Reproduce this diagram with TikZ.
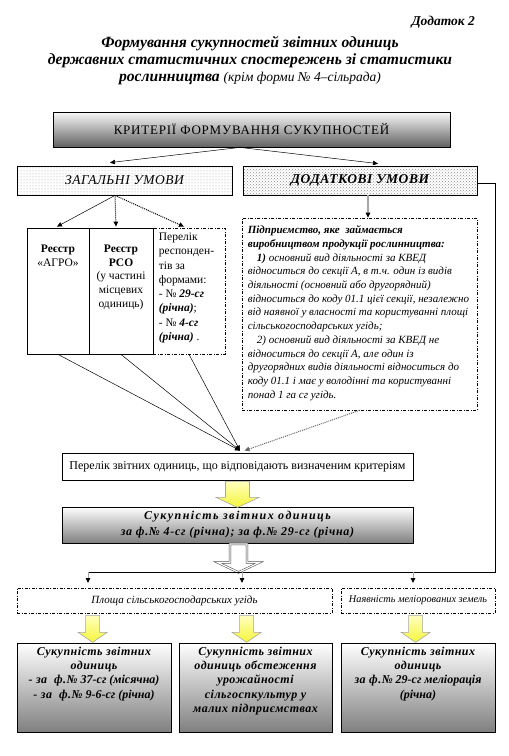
\documentclass[tikz,border=0pt]{standalone}
\usepackage{fontspec}
\setmainfont{Liberation Serif}
\newfontfamily\spfont[LetterSpace=12]{Liberation Serif}
\newfontfamily\spfontm[LetterSpace=6]{Liberation Serif}
\newfontfamily\spfonts[LetterSpace=4]{Liberation Serif}
\usetikzlibrary{arrows.meta,calc,patterns}
\begin{document}
\begin{tikzpicture}[x=1pt,y=-1pt,
  frame/.style={draw, line width=0.8pt, inner sep=0pt},
  ddash/.style={draw, line width=0.7pt, inner sep=0pt, dash pattern=on 3pt off 1.5pt on 1pt off 1.5pt},
  tipa/.style={-{Triangle[length=5pt,width=4.5pt]}},
  thinarr/.style={tipa, line width=0.5pt},
  dotarr/.style={tipa, line width=1pt, densely dotted},
  grayarr/.style={-{Triangle[length=5pt,width=4.5pt,color=black]}, draw=gray!70, line width=1.2pt},
  yblock/.style={draw=gray!70, line width=0.6pt, top color={rgb,255:red,255;green,255;blue,190}, bottom color={rgb,255:red,245;green,245;blue,60}},
  hblock/.style={draw=black!75, line width=0.5pt, double=white, double distance=1.2pt, fill=white},
  txt/.style={inner sep=0pt},
  btxt/.style={txt, anchor=north, align=center, font=\fontsize{12}{14.3}\selectfont\bfseries\itshape}
]
\useasboundingbox (0,0) rectangle (509,756);

% title
\node[txt, anchor=east, font=\fontsize{13.5}{15}\selectfont\bfseries\itshape] (appx) at (475,22) {Додаток 2};
\node[txt, align=center, font=\fontsize{15.6}{17}\selectfont\bfseries\itshape] (title) at (250,61)
  {Формування сукупностей звітних одиниць\\державних статистичних спостережень зі статистики\\рослинництва {\mdseries\fontsize{13.5}{17}\selectfont (крім форми № 4–сільрада)}};

% criteria
\node[frame, top color=gray!5, bottom color=black!62, minimum width=397pt, minimum height=35pt] (crit) at (251.5,129.5)
  {\spfontm\fontsize{13}{15}\selectfont КРИТЕРІЇ ФОРМУВАННЯ СУКУПНОСТЕЙ};

\node[frame, pattern=dots, pattern color=gray!80, minimum width=215pt, minimum height=29pt] (zag) at (124.5,180.5) {};
\node[txt, font=\spfonts\fontsize{13.5}{15}\selectfont\itshape] at (zag) {ЗАГАЛЬНІ УМОВИ};
\node[frame, pattern=crosshatch dots, pattern color=gray!90, minimum width=234pt, minimum height=29pt] (dod) at (360,180.5) {};
\node[txt, font=\spfonts\fontsize{13.5}{15}\selectfont\bfseries\itshape] at (dod) {ДОДАТКОВІ УМОВИ};

\draw[thinarr] ($(crit.south)+(-11.5,0)$) -- ($(zag.north)+(-14.5,-3)$);
\draw[thinarr] ($(crit.south)+(-11.5,0)$) -- ($(dod.north)+(18,-2)$);

% left boxes
\node[frame, minimum width=62pt, minimum height=126pt] (agro) at (58,291) {};
\node[frame, minimum width=64pt, minimum height=126pt] (rso) at (121,291) {};
\node[ddash, minimum width=72pt, minimum height=126pt] (perelik) at (189,291) {};
\node[txt, anchor=north, align=center, font=\fontsize{11.5}{13.8}\selectfont] at ($(agro.north)+(0,17)$) {\textbf{Реєстр}\\«АГРО»};
\node[txt, anchor=north, align=center, font=\fontsize{11.5}{13.8}\selectfont] at ($(rso.north)+(0,17)$) {\textbf{Реєстр}\\\textbf{РСО}\\(у частині\\місцевих\\одиниць)};
\node[txt, anchor=north west, align=left, font=\fontsize{11.5}{14.3}\selectfont] at ($(perelik.north west)+(6,5)$)
  {Перелік\\респонден-\\тів за\\формами:\\- № \textbf{\textit{29-сг}}\\\textbf{\textit{(річна)}};\\- № \textbf{\textit{4-сг}}\\\textbf{\textit{(річна)}} .};

\draw[thinarr] ($(zag.south)+(-9.5,0)$) -- ($(agro.north)+(-1,-1)$);
\draw[dotarr] ($(zag.south)+(-9.5,0)$) -- ($(rso.north)+(-5,-1)$);
\draw[dotarr] ($(zag.south)+(-9.5,0)$) -- ($(perelik.north)+(-5,-1)$);

% additional conditions text
\node[ddash, minimum width=235pt, minimum height=192pt] (dodtext) at (359.5,314) {};
\node[txt, anchor=north west, align=left, font=\fontsize{11}{13.7}\selectfont\itshape] at ($(dodtext.north west)+(6,8)$)
  {\textbf{Підприємство, яке\ \ займається}\\
   \textbf{виробництвом продукції рослинництва:}\\
   \hspace*{9pt}\textbf{1)} основний вид діяльності за КВЕД\\
   відноситься до секції А, в т.ч. один із видів\\
   діяльності (основний або другорядний)\\
   відноситься до коду 01.1 цієї секції, незалежно\\
   від наявної у власності та користуванні площі\\
   сільськогосподарських угідь;\\
   \hspace*{9pt}2) основний вид діяльності за КВЕД не\\
   відноситься до секції А, але один із\\
   другорядних видів діяльності відноситься до\\
   коду 01.1 і має у володінні та користуванні\\
   понад 1 га сг угідь.};
\draw[grayarr] ($(dod.south)+(8,0)$) -- ($(dodtext.north)+(8.5,0)$);

% list
\node[frame, minimum width=351pt, minimum height=27pt, font=\fontsize{12}{14}\selectfont] (list) at (237.5,466.5)
  {Перелік звітних одиниць, що відповідають визначеним критеріям};
\draw[thinarr] (agro.south) -- ($(list.north)+(2.5,-2)$);
\draw[thinarr] (rso.south) -- ($(list.north)+(2.5,-2)$);
\draw[thinarr] (perelik.south) -- ($(list.north)+(2.5,-2)$);
\draw[tipa, draw=gray!80!black, line width=1pt, densely dotted] (dodtext.south) -- ($(list.north)+(7,-2)$);

% aggregate
\node[frame, top color=white, bottom color=black!50, minimum width=351pt, minimum height=36pt] (suk) at (237.5,525) {};
\node[txt, align=center, font=\fontsize{12}{16}\selectfont\bfseries\itshape] at (suk)
  {\spfont Сукупність звітних одиниць\\\spfontm за ф.№ 4-сг (річна); за ф.№ 29-сг (річна)};
\draw[yblock, shift={(list.south)}] (-12,1) -- (12,1) -- (12,17) -- (21.5,17) -- (0,27) -- (-21.5,17) -- (-12,17) -- cycle;
\draw[hblock, shift={($(suk.south)+(1,0)$)}] (-8.5,0.5) -- (8.5,0.5) -- (8.5,19) -- (21,19) -- (0,29) -- (-21,19) -- (-8.5,19) -- cycle;

% distribution line
\coordinate (hr) at (495,572);
\coordinate (h1) at (88,572);
\coordinate (h2) at (242,572);
\coordinate (h3) at (413,572);
\draw[line width=0.8pt] ($(dod.east)+(0,2.5)$) -| (hr) -- (h1);
\draw[grayarr, line width=1pt] (h1) -- ++(0,11);
\draw[grayarr, line width=1pt] (h2) -- ++(0,11);
\draw[grayarr, line width=1pt] (h3) -- ++(0,11);

\node[ddash, minimum width=315pt, minimum height=25pt, font=\fontsize{11}{13}\selectfont\itshape] (plosh) at (174.5,600.5) {Площа сільськогосподарських угідь};
\node[ddash, minimum width=154pt, minimum height=25pt, font=\fontsize{10.3}{12}\selectfont\itshape] (nayav) at (418,600.5) {Наявність меліорованих земель};

% bottom boxes
\node[frame, top color=white, bottom color=black!50, minimum width=154pt, minimum height=89pt] (b1) at (94,687.5) {};
\node[frame, top color=white, bottom color=black!50, minimum width=153pt, minimum height=89pt] (b2) at (255.5,687.5) {};
\node[frame, top color=white, bottom color=black!50, minimum width=154pt, minimum height=89pt] (b3) at (418,687.5) {};
\node[btxt] at ($(b1.north)+(0,4)$)
  {\spfonts Сукупність звітних\\\spfonts одиниць\\{\spfonts - за\ \ ф.№} 37-сг (місячна)\\{\spfonts - за\ \ ф.№} 9-6-сг (річна)};
\node[btxt] at ($(b2.north)+(0,4)$)
  {\spfonts Сукупність звітних\\\spfonts одиниць обстеження\\\spfonts урожайності\\\spfonts сільгоспкультур у\\\spfonts малих підприємствах};
\node[btxt] at ($(b3.north)+(0,4)$)
  {\spfonts Сукупність звітних\\\spfonts одиниць\\{\spfonts за ф.№} 29-сг меліорація\\(річна)};

\draw[yblock, shift={($(plosh.south west)+(76,0)$)}] (-7,2) -- (7,2) -- (7,19) -- (14.5,19) -- (0,29) -- (-14.5,19) -- (-7,19) -- cycle;
\draw[yblock, shift={($(plosh.south west)+(230,0)$)}] (-7,2) -- (7,2) -- (7,19) -- (14.5,19) -- (0,29) -- (-14.5,19) -- (-7,19) -- cycle;
\draw[yblock, shift={($(nayav.south west)+(75,0)$)}] (-7,2) -- (7,2) -- (7,19) -- (14.5,19) -- (0,29) -- (-14.5,19) -- (-7,19) -- cycle;
\end{tikzpicture}
\end{document}
